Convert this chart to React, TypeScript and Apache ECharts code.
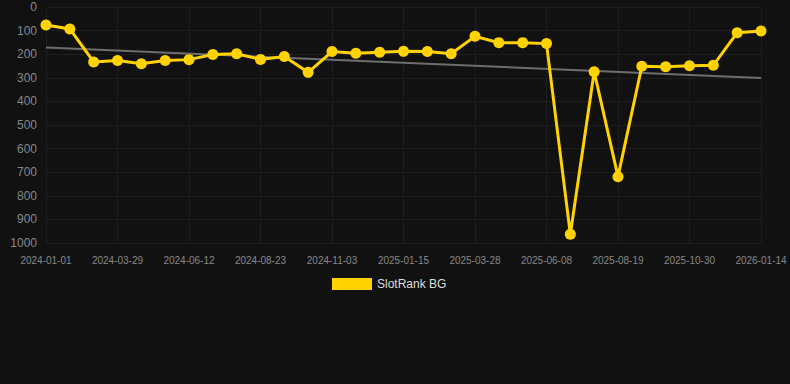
import React, { useEffect, useRef } from "react";
import * as echarts from "echarts";

const categories = [
  "2024-01-01", "2024-02-05", "2024-03-05", "2024-03-29", "2024-04-23", "2024-05-18",
  "2024-06-12", "2024-07-06", "2024-07-30", "2024-08-23", "2024-09-16", "2024-10-10",
  "2024-11-03", "2024-11-27", "2024-12-21", "2025-01-15", "2025-02-08", "2025-03-04",
  "2025-03-28", "2025-04-21", "2025-05-15", "2025-06-08", "2025-07-02", "2025-07-26",
  "2025-08-19", "2025-09-12", "2025-10-06", "2025-10-30", "2025-11-23", "2025-12-17",
  "2026-01-14",
];

const rankValues = [
  76, 93, 233, 227, 240, 227, 223, 201, 198, 222, 210,
  277, 189, 196, 192, 188, 189, 198, 124, 151, 151, 155,
  963, 274, 719, 251, 253, 249, 247, 109, 102,
];

const trendStart = 172;
const trendEnd = 301;

const seriesName = "SlotRank BG";

export default function App() {
  const ref = useRef<HTMLDivElement>(null);
  useEffect(() => {
    document.body.style.margin = "0";
    document.body.style.background = "#111111";
    if (!ref.current) return;
    const chart = echarts.init(ref.current, null, { renderer: "svg" });
    chart.setOption({
      animation: false,
      backgroundColor: "#111111",
      grid: { left: 46, right: 29, top: 7, bottom: 141, containLabel: false },
      legend: {
        data: [seriesName],
        top: 273,
        left: 327,
        icon: "rect",
        itemWidth: 40,
        itemHeight: 12,
        itemGap: 10,
        textStyle: { color: "#dddddd", fontSize: 12, fontFamily: "Arial, Liberation Sans, sans-serif" },
      },
      xAxis: {
        type: "category",
        data: categories,
        boundaryGap: false,
        axisLine: { show: false },
        axisTick: { show: false },
        axisLabel: {
          interval: 2,
          color: "#888888",
          fontSize: 10,
          margin: 12,
          fontFamily: "Arial, Liberation Sans, sans-serif",
        },
        splitLine: { show: true, interval: 2, lineStyle: { color: "#1e1e1e", width: 1 } },
      },
      yAxis: {
        type: "value",
        inverse: true,
        min: 0,
        max: 1000,
        interval: 100,
        axisLine: { show: false },
        axisTick: { show: false },
        axisLabel: {
          color: "#888888",
          fontSize: 12,
          margin: 9,
          fontFamily: "Arial, Liberation Sans, sans-serif",
          formatter: (v: number) => String(v),
        },
        splitLine: { show: true, lineStyle: { color: "#1e1e1e", width: 1 } },
      },
      series: [
        {
          name: "trend",
          type: "line",
          data: [
            [categories[0], trendStart],
            [categories[categories.length - 1], trendEnd],
          ],
          showSymbol: false,
          symbol: "none",
          lineStyle: { color: "#6e6e6e", width: 2 },
          silent: true,
          z: 1,
        },
        {
          name: seriesName,
          type: "line",
          data: rankValues,
          symbol: "circle",
          symbolSize: 11,
          itemStyle: { color: "#ffd200" },
          lineStyle: { color: "#ffd200", width: 3, join: "miter", miterLimit: 10 },
          z: 2,
        },
      ],
    });
    return () => chart.dispose();
  }, []);
  return <div ref={ref} style={{ width: 790, height: 384 }} />;
}
